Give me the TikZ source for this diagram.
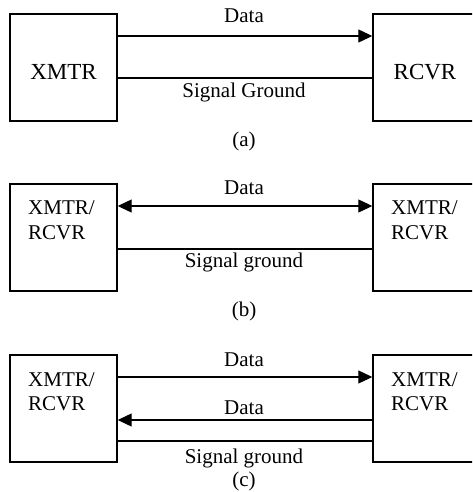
\documentclass[tikz,border=0pt]{standalone}
\usepackage{fontspec}
\setmainfont{Liberation Serif}
\usetikzlibrary{arrows.meta}
\tikzset{
  box/.style={draw, line width=1.4pt, minimum width=107pt, minimum height=107pt, inner sep=0pt},
  lbl/.style={font=\fontsize{21}{24}\selectfont, inner sep=0pt, anchor=base},
  boxtxt/.style={font=\fontsize{21}{24}\selectfont, inner sep=0pt, anchor=base west},
  wire/.style={line width=1.2pt},
  tip/.style={-{Triangle[length=14pt,width=13pt]}}
}
\begin{document}
\begin{tikzpicture}[x=1pt,y=-1pt]
\useasboundingbox (0,0) rectangle (472,492);
\clip (0,0) rectangle (472,492);
% (a)
\node[box] (la) at (63.5,67.5) {};
\node[box] (ra) at (426.5,67.5) {};
\node[lbl, font=\fontsize{23}{26}\selectfont] (ta1) at (63.5,80) {XMTR};
\node[lbl, font=\fontsize{23}{26}\selectfont] (ta2) at (425,80) {RCVR};
\coordinate (a1) at (la.east |- 0,36);
\coordinate (a2) at (ra.west |- 0,36);
\coordinate (g1) at (la.east |- 0,78);
\coordinate (g2) at (ra.west |- 0,78);
\draw[wire, tip] (a1) -- (a2);
\draw[wire] (g1) -- (g2);
\node[lbl] (da) at (244,22.5) {Data};
\node[lbl] (sa) at (244,98) {Signal Ground};
\node[lbl] (capa) at (244,146) {(a)};
% (b)
\node[box] (lb) at (63.5,237.5) {};
\node[box] (rb) at (426.5,237.5) {};
\node[boxtxt] (tb1) at (28,214.5) {XMTR/};
\node[boxtxt] (tb2) at (28,239) {RCVR};
\node[boxtxt] (tb3) at (391,214.5) {XMTR/};
\node[boxtxt] (tb4) at (391,239) {RCVR};
\coordinate (b1) at (lb.east |- 0,206);
\coordinate (b2) at (rb.west |- 0,206);
\coordinate (h1) at (lb.east |- 0,249);
\coordinate (h2) at (rb.west |- 0,249);
\draw[wire, {Triangle[length=14pt,width=13pt]}-{Triangle[length=14pt,width=13pt]}] (b1) -- (b2);
\draw[wire] (h1) -- (h2);
\node[lbl] (db) at (244,194) {Data};
\node[lbl] (sb) at (244,267) {Signal ground};
\node[lbl] (capb) at (244,316) {(b)};
% (c)
\node[box] (lc) at (63.5,408.5) {};
\node[box] (rc) at (426.5,408.5) {};
\node[boxtxt] (tc1) at (28,386) {XMTR/};
\node[boxtxt] (tc2) at (28,410) {RCVR};
\node[boxtxt] (tc3) at (391,386) {XMTR/};
\node[boxtxt] (tc4) at (391,410) {RCVR};
\coordinate (c1) at (lc.east |- 0,377);
\coordinate (c2) at (rc.west |- 0,377);
\coordinate (c3) at (lc.east |- 0,420);
\coordinate (c4) at (rc.west |- 0,420);
\coordinate (k1) at (lc.east |- 0,441);
\coordinate (k2) at (rc.west |- 0,441);
\draw[wire, tip] (c1) -- (c2);
\draw[wire, tip] (c4) -- (c3);
\draw[wire] (k1) -- (k2);
\node[lbl] (dc1) at (244,366) {Data};
\node[lbl] (dc2) at (244,414) {Data};
\node[lbl] (sc) at (244,463) {Signal ground};
\node[lbl] (capc) at (244,486.5) {(c)};
\end{tikzpicture}
\end{document}
